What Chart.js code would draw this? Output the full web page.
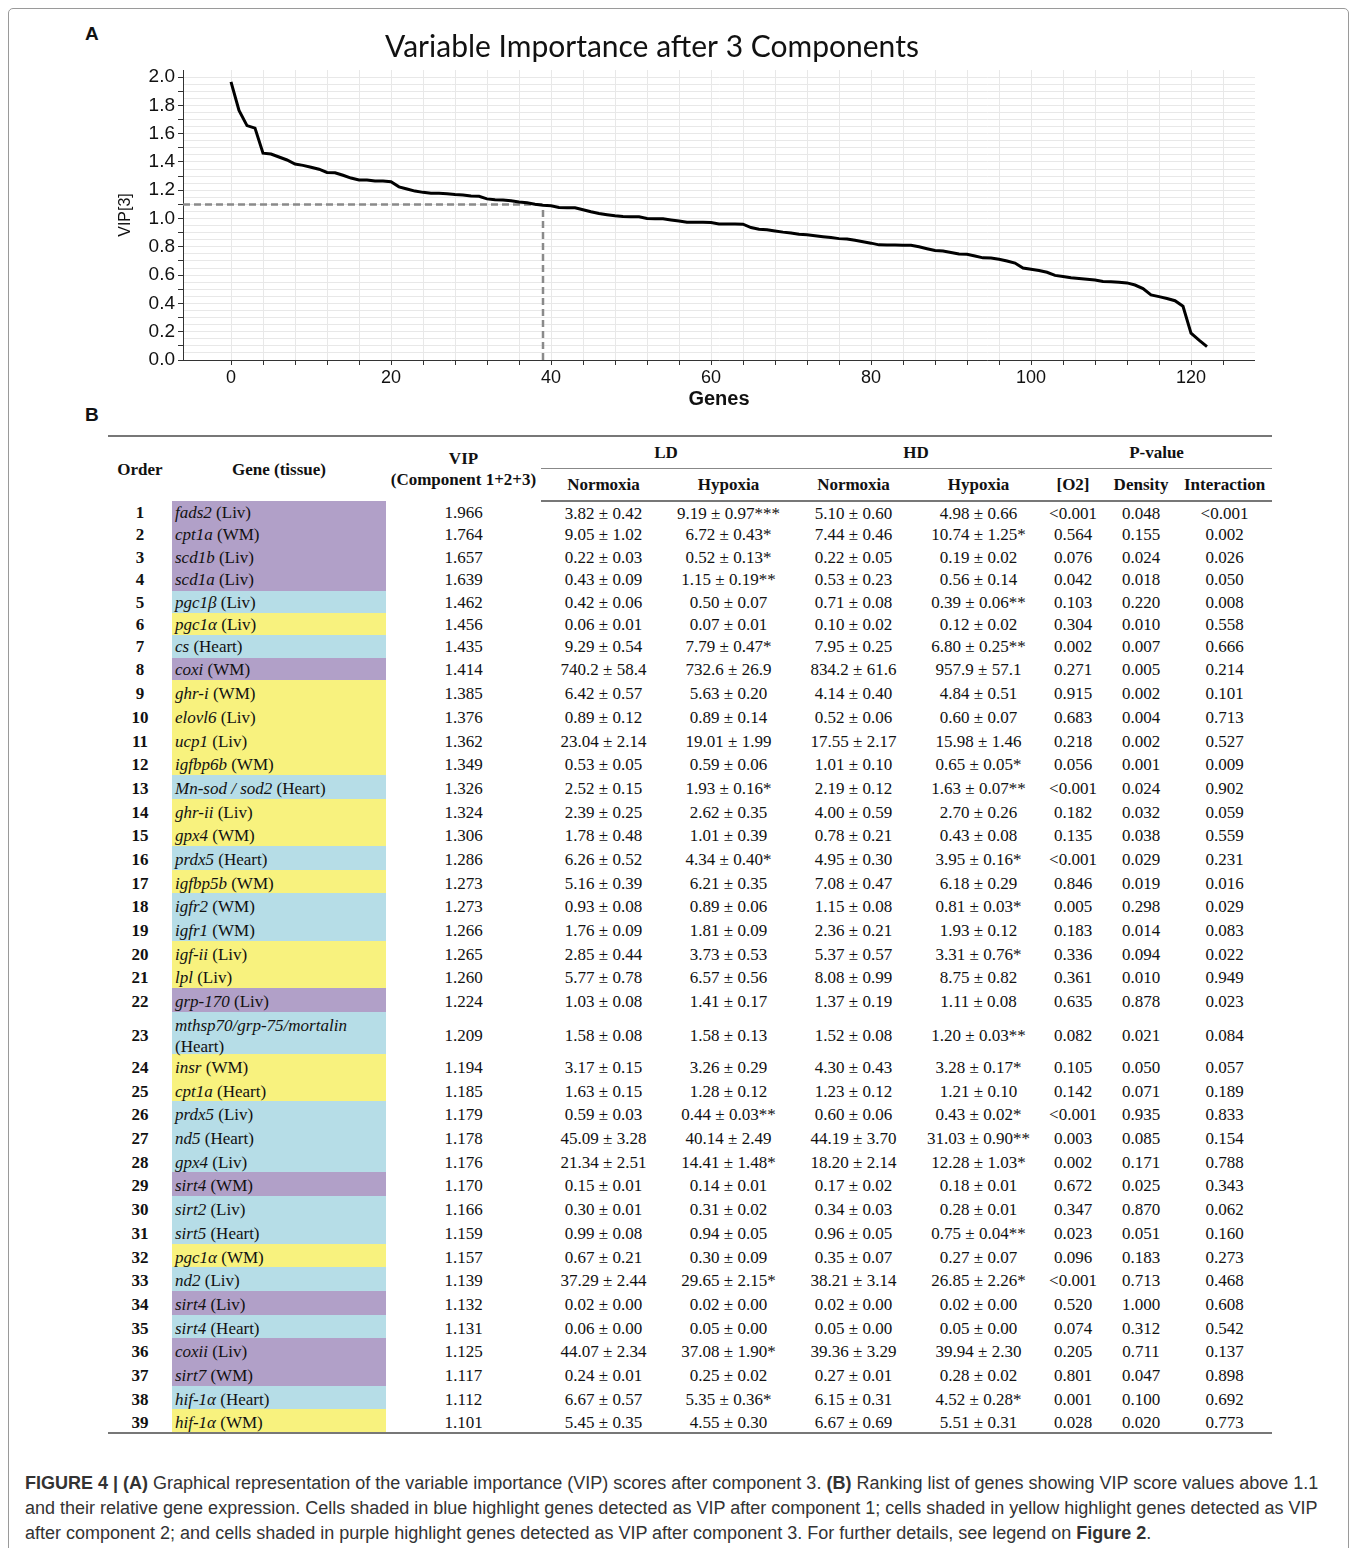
<!DOCTYPE html>
<html lang="en">
<head>
  <meta charset="UTF-8" />
  <title>Variable Importance after 3 Components</title>
  <style>
    * {
      margin: 0;
      padding: 0;
      box-sizing: border-box;
    }
    body {
      width: 1357px;
      height: 1548px;
      position: relative;
      overflow: hidden;
      background: #fff;
      font-family: Arial, "Liberation Sans", sans-serif;
    }
    .frame {
      position: absolute;
      left: 8px;
      top: 8px;
      width: 1341px;
      height: 1600px;
      border: 1px solid #9a9a9a;
      border-radius: 5px;
    }
    .panel-label {
      position: absolute;
      font: bold 19px Arial, sans-serif;
      color: #111;
    }
    #vipChart {
      position: absolute;
      left: 49px;
      top: 20px;
    }
    /* Table (panel B) */
    table {
      position: absolute;
      left: 108px;
      top: 435px;
      width: 1164px;
      border-collapse: collapse;
      table-layout: fixed;
      font-family: "Liberation Serif", "Times New Roman", serif;
      font-size: 17px;
      color: #111;
    }
    thead tr:first-child th {
      border-top: 2px solid #777;
    }
    thead tr.sub th {
      border-bottom: 2px solid #777;
    }
    th {
      font-weight: bold;
      text-align: center;
      vertical-align: middle;
      line-height: 21px;
      white-space: nowrap;
    }
    th.group {
      border-bottom: 1px solid #888;
    }
    tbody td {
      text-align: center;
      vertical-align: top;
      line-height: 18px;
      white-space: nowrap;
    }
    tbody tr.top8 td { padding-top: 3px; }
    tbody tr.std td { padding-top: 5px; }
    tbody tr.tall td { vertical-align: middle; padding-top: 6px; }
    tbody tr.tall td.gene { vertical-align: top; padding-top: 0; line-height: 21px; }
    tbody tr.tall td.gene span.wrap { position: relative; top: 3px; }
    tbody tr:last-child td { border-bottom: 2px solid #777; }
    td.order { font-weight: bold; }
    td.gene { text-align: left; padding-left: 3px; }
    td.gene i { font-style: italic; }
    .caption {
      position: absolute;
      left: 25px;
      top: 1471px;
      font-size: 18px;
      line-height: 25px;
      color: #333;
      white-space: nowrap;
    }
  </style>
</head>
<body>
  <div class="frame"></div>
  <div class="panel-label" style="left:85px; top:23px;">A</div>
  <div class="panel-label" style="left:85px; top:404px;">B</div>

  <canvas id="vipChart" width="1206" height="400"></canvas>

  <table id="vipTable">
    <colgroup>
      <col style="width:64px" />
      <col style="width:214px" />
      <col style="width:155px" />
      <col style="width:125px" />
      <col style="width:125px" />
      <col style="width:125px" />
      <col style="width:125px" />
      <col style="width:64px" />
      <col style="width:72px" />
      <col style="width:95px" />
    </colgroup>
    <thead>
      <tr style="height:32px">
        <th rowspan="2">Order</th>
        <th rowspan="2">Gene (tissue)</th>
        <th rowspan="2">VIP<br />(Component 1+2+3)</th>
        <th colspan="2" class="group">LD</th>
        <th colspan="2" class="group">HD</th>
        <th colspan="3" class="group">P-value</th>
      </tr>
      <tr class="sub" style="height:33px">
        <th>Normoxia</th>
        <th>Hypoxia</th>
        <th>Normoxia</th>
        <th>Hypoxia</th>
        <th>[O2]</th>
        <th>Density</th>
        <th>Interaction</th>
      </tr>
    </thead>
    <tbody></tbody>
  </table>

  <div class="caption">
    <b>FIGURE 4 | (A)</b> Graphical representation of the variable importance (VIP) scores after component 3. <b>(B)</b> Ranking list of genes showing VIP score values above 1.1<br />
    and their relative gene expression. Cells shaded in blue highlight genes detected as VIP after component 1; cells shaded in yellow highlight genes detected as VIP<br />
    after component 2; and cells shaded in purple highlight genes detected as VIP after component 3. For further details, see legend on <b>Figure 2</b>.
  </div>

  <script src="https://cdn.jsdelivr.net/npm/chart.js"></script>
  <script>
    // ---- data ----
    const geneNames = ['fads2', 'cpt1a', 'scd1b', 'scd1a', 'pgc1β', 'pgc1α', 'cs', 'coxi', 'ghr-i', 'elovl6',
      'ucp1', 'igfbp6b', 'Mn-sod / sod2', 'ghr-ii', 'gpx4', 'prdx5', 'igfbp5b', 'igfr2', 'igfr1', 'igf-ii',
      'lpl', 'grp-170', 'mthsp70/grp-75/mortalin', 'insr', 'cpt1a', 'prdx5', 'nd5', 'gpx4', 'sirt4', 'sirt2',
      'sirt5', 'pgc1α', 'nd2', 'sirt4', 'sirt4', 'coxii', 'sirt7', 'hif-1α', 'hif-1α'];
    const tissues = ['Liv', 'WM', 'Liv', 'Liv', 'Liv', 'Liv', 'Heart', 'WM', 'WM', 'Liv',
      'Liv', 'WM', 'Heart', 'Liv', 'WM', 'Heart', 'WM', 'WM', 'WM', 'Liv',
      'Liv', 'Liv', 'Heart', 'WM', 'Heart', 'Liv', 'Heart', 'Liv', 'WM', 'Liv',
      'Heart', 'WM', 'Liv', 'Liv', 'Heart', 'Liv', 'WM', 'Heart', 'WM'];
    // component after which the gene became VIP (1 = blue, 2 = yellow, 3 = purple)
    const vipComponent = [3, 3, 3, 3, 1, 2, 1, 3, 2, 2,
      2, 2, 1, 2, 2, 1, 2, 1, 1, 2,
      2, 3, 1, 2, 2, 1, 1, 1, 3, 1,
      1, 2, 1, 3, 1, 3, 3, 1, 2];
    const vipValues = [1.966, 1.764, 1.657, 1.639, 1.462, 1.456, 1.435, 1.414, 1.385, 1.376,
      1.362, 1.349, 1.326, 1.324, 1.306, 1.286, 1.273, 1.273, 1.266, 1.265,
      1.260, 1.224, 1.209, 1.194, 1.185, 1.179, 1.178, 1.176, 1.170, 1.166,
      1.159, 1.157, 1.139, 1.132, 1.131, 1.125, 1.117, 1.112, 1.101];
    const ldNormoxia = ['3.82 ± 0.42', '9.05 ± 1.02', '0.22 ± 0.03', '0.43 ± 0.09', '0.42 ± 0.06', '0.06 ± 0.01', '9.29 ± 0.54', '740.2 ± 58.4', '6.42 ± 0.57', '0.89 ± 0.12',
      '23.04 ± 2.14', '0.53 ± 0.05', '2.52 ± 0.15', '2.39 ± 0.25', '1.78 ± 0.48', '6.26 ± 0.52', '5.16 ± 0.39', '0.93 ± 0.08', '1.76 ± 0.09', '2.85 ± 0.44',
      '5.77 ± 0.78', '1.03 ± 0.08', '1.58 ± 0.08', '3.17 ± 0.15', '1.63 ± 0.15', '0.59 ± 0.03', '45.09 ± 3.28', '21.34 ± 2.51', '0.15 ± 0.01', '0.30 ± 0.01',
      '0.99 ± 0.08', '0.67 ± 0.21', '37.29 ± 2.44', '0.02 ± 0.00', '0.06 ± 0.00', '44.07 ± 2.34', '0.24 ± 0.01', '6.67 ± 0.57', '5.45 ± 0.35'];
    const ldHypoxia = ['9.19 ± 0.97***', '6.72 ± 0.43*', '0.52 ± 0.13*', '1.15 ± 0.19**', '0.50 ± 0.07', '0.07 ± 0.01', '7.79 ± 0.47*', '732.6 ± 26.9', '5.63 ± 0.20', '0.89 ± 0.14',
      '19.01 ± 1.99', '0.59 ± 0.06', '1.93 ± 0.16*', '2.62 ± 0.35', '1.01 ± 0.39', '4.34 ± 0.40*', '6.21 ± 0.35', '0.89 ± 0.06', '1.81 ± 0.09', '3.73 ± 0.53',
      '6.57 ± 0.56', '1.41 ± 0.17', '1.58 ± 0.13', '3.26 ± 0.29', '1.28 ± 0.12', '0.44 ± 0.03**', '40.14 ± 2.49', '14.41 ± 1.48*', '0.14 ± 0.01', '0.31 ± 0.02',
      '0.94 ± 0.05', '0.30 ± 0.09', '29.65 ± 2.15*', '0.02 ± 0.00', '0.05 ± 0.00', '37.08 ± 1.90*', '0.25 ± 0.02', '5.35 ± 0.36*', '4.55 ± 0.30'];
    const hdNormoxia = ['5.10 ± 0.60', '7.44 ± 0.46', '0.22 ± 0.05', '0.53 ± 0.23', '0.71 ± 0.08', '0.10 ± 0.02', '7.95 ± 0.25', '834.2 ± 61.6', '4.14 ± 0.40', '0.52 ± 0.06',
      '17.55 ± 2.17', '1.01 ± 0.10', '2.19 ± 0.12', '4.00 ± 0.59', '0.78 ± 0.21', '4.95 ± 0.30', '7.08 ± 0.47', '1.15 ± 0.08', '2.36 ± 0.21', '5.37 ± 0.57',
      '8.08 ± 0.99', '1.37 ± 0.19', '1.52 ± 0.08', '4.30 ± 0.43', '1.23 ± 0.12', '0.60 ± 0.06', '44.19 ± 3.70', '18.20 ± 2.14', '0.17 ± 0.02', '0.34 ± 0.03',
      '0.96 ± 0.05', '0.35 ± 0.07', '38.21 ± 3.14', '0.02 ± 0.00', '0.05 ± 0.00', '39.36 ± 3.29', '0.27 ± 0.01', '6.15 ± 0.31', '6.67 ± 0.69'];
    const hdHypoxia = ['4.98 ± 0.66', '10.74 ± 1.25*', '0.19 ± 0.02', '0.56 ± 0.14', '0.39 ± 0.06**', '0.12 ± 0.02', '6.80 ± 0.25**', '957.9 ± 57.1', '4.84 ± 0.51', '0.60 ± 0.07',
      '15.98 ± 1.46', '0.65 ± 0.05*', '1.63 ± 0.07**', '2.70 ± 0.26', '0.43 ± 0.08', '3.95 ± 0.16*', '6.18 ± 0.29', '0.81 ± 0.03*', '1.93 ± 0.12', '3.31 ± 0.76*',
      '8.75 ± 0.82', '1.11 ± 0.08', '1.20 ± 0.03**', '3.28 ± 0.17*', '1.21 ± 0.10', '0.43 ± 0.02*', '31.03 ± 0.90**', '12.28 ± 1.03*', '0.18 ± 0.01', '0.28 ± 0.01',
      '0.75 ± 0.04**', '0.27 ± 0.07', '26.85 ± 2.26*', '0.02 ± 0.00', '0.05 ± 0.00', '39.94 ± 2.30', '0.28 ± 0.02', '4.52 ± 0.28*', '5.51 ± 0.31'];
    const pOxygen = ['<0.001', '0.564', '0.076', '0.042', '0.103', '0.304', '0.002', '0.271', '0.915', '0.683',
      '0.218', '0.056', '<0.001', '0.182', '0.135', '<0.001', '0.846', '0.005', '0.183', '0.336',
      '0.361', '0.635', '0.082', '0.105', '0.142', '<0.001', '0.003', '0.002', '0.672', '0.347',
      '0.023', '0.096', '<0.001', '0.520', '0.074', '0.205', '0.801', '0.001', '0.028'];
    const pDensity = ['0.048', '0.155', '0.024', '0.018', '0.220', '0.010', '0.007', '0.005', '0.002', '0.004',
      '0.002', '0.001', '0.024', '0.032', '0.038', '0.029', '0.019', '0.298', '0.014', '0.094',
      '0.010', '0.878', '0.021', '0.050', '0.071', '0.935', '0.085', '0.171', '0.025', '0.870',
      '0.051', '0.183', '0.713', '1.000', '0.312', '0.711', '0.047', '0.100', '0.020'];
    const pInteraction = ['<0.001', '0.002', '0.026', '0.050', '0.008', '0.558', '0.666', '0.214', '0.101', '0.713',
      '0.527', '0.009', '0.902', '0.059', '0.559', '0.231', '0.016', '0.029', '0.083', '0.022',
      '0.949', '0.023', '0.084', '0.057', '0.189', '0.833', '0.154', '0.788', '0.343', '0.062',
      '0.160', '0.273', '0.468', '0.608', '0.542', '0.137', '0.898', '0.692', '0.773'];

    // VIP scores of the remaining genes (ranks 40-123)
    const tailScores = [1.094, 1.090, 1.078, 1.077, 1.076, 1.062, 1.048, 1.036, 1.027, 1.019,
      1.014, 1.013, 1.012, 1.001, 0.999, 0.998, 0.990, 0.982, 0.974, 0.973,
      0.973, 0.972, 0.962, 0.961, 0.961, 0.960, 0.936, 0.925, 0.920, 0.912,
      0.904, 0.898, 0.889, 0.885, 0.879, 0.872, 0.866, 0.858, 0.855, 0.846,
      0.836, 0.826, 0.814, 0.813, 0.813, 0.812, 0.811, 0.800, 0.787, 0.774,
      0.770, 0.760, 0.750, 0.747, 0.735, 0.722, 0.721, 0.712, 0.700, 0.685,
      0.650, 0.641, 0.632, 0.620, 0.598, 0.590, 0.582, 0.576, 0.571, 0.565,
      0.555, 0.553, 0.550, 0.545, 0.530, 0.505, 0.460, 0.448, 0.435, 0.419,
      0.380, 0.190, 0.140, 0.095];

    const vipCutoff = 1.1;
    const cutoffGene = 39;
    const xTickValues = [0, 4, 8, 12, 16, 20, 24, 28, 32, 36, 40, 44, 48, 52, 56, 60,
      64, 68, 72, 76, 80, 84, 88, 92, 96, 100, 104, 108, 112, 116, 120, 124];
    const xTickLabels = ['0', '20', '40', '60', '80', '100', '120'];
    const yTickLabels = ['0.0', '0.2', '0.4', '0.6', '0.8', '1.0', '1.2', '1.4', '1.6', '1.8', '2.0'];
    const xMin = -6, xMax = 128, yMax = 2.05;

    // ---- table ----
    const cellColors = { 1: '#b6dde7', 2: '#f8f27e', 3: '#b1a0c8' };
    const tbody = document.querySelector('#vipTable tbody');
    geneNames.forEach((gene, i) => {
      const tr = document.createElement('tr');
      const long = gene.length > 18;
      if (long) {
        tr.className = 'tall';
        tr.style.height = '42.3px';
      } else if (i < 8) {
        tr.className = 'top8';
        tr.style.height = '22.4px';
      } else {
        tr.className = 'std';
        tr.style.height = '23.7px';
      }
      const geneHtml = long
        ? '<span class="wrap"><i>' + gene + '</i><br>(' + tissues[i] + ')</span>'
        : '<i>' + gene + '</i> (' + tissues[i] + ')';
      tr.innerHTML =
        '<td class="order">' + (i + 1) + '</td>' +
        '<td class="gene" style="background:' + cellColors[vipComponent[i]] + '">' + geneHtml + '</td>' +
        '<td>' + vipValues[i].toFixed(3) + '</td>' +
        '<td>' + ldNormoxia[i] + '</td>' +
        '<td>' + ldHypoxia[i] + '</td>' +
        '<td>' + hdNormoxia[i] + '</td>' +
        '<td>' + hdHypoxia[i] + '</td>' +
        '<td>' + pOxygen[i].replace('<', '&lt;') + '</td>' +
        '<td>' + pDensity[i] + '</td>' +
        '<td>' + pInteraction[i].replace('<', '&lt;') + '</td>';
      tbody.appendChild(tr);
    });

    // ---- chart ----
    const vipScores = vipValues.concat(tailScores);
    const axisFont = { family: 'Arial', size: 19 };

    new Chart(document.getElementById('vipChart'), {
      type: 'line',
      data: {
        datasets: [
          {
            data: vipScores.map((v, i) => ({ x: i, y: v })),
            borderColor: '#000',
            borderWidth: 3,
            pointRadius: 0,
            tension: 0
          },
          {
            data: [{ x: xMin, y: vipCutoff }, { x: cutoffGene, y: vipCutoff }],
            borderColor: '#8a8a8a',
            borderWidth: 2.5,
            borderDash: [7, 4],
            pointRadius: 0
          },
          {
            data: [{ x: cutoffGene, y: 0 }, { x: cutoffGene, y: vipCutoff }],
            borderColor: '#8a8a8a',
            borderWidth: 2.5,
            borderDash: [7, 4],
            pointRadius: 0
          }
        ]
      },
      options: {
        responsive: false,
        animation: false,
        devicePixelRatio: 1,
        layout: { padding: 0 },
        plugins: {
          legend: { display: false },
          tooltip: { enabled: false },
          title: {
            display: true,
            text: 'Variable Importance after 3 Components',
            color: '#111',
            font: { family: 'Lato', size: 30, weight: 'normal' },
            padding: { top: 9, bottom: 5 }
          }
        },
        scales: {
          x: {
            type: 'linear',
            min: xMin,
            max: xMax,
            afterBuildTicks: (s) => { s.ticks = xTickValues.map(v => ({ value: v })); },
            afterFit: (s) => { s.height = 60; },
            ticks: {
              autoSkip: false,
              maxRotation: 0,
              padding: 2,
              color: '#111',
              font: { family: 'Arial', size: 18 },
              callback: (v) => (xTickLabels.includes(String(v)) ? String(v) : '')
            },
            grid: { color: '#e8e8e8', tickColor: '#333', tickLength: 5 },
            border: { color: '#333', width: 1 },
            title: {
              display: true,
              text: 'Genes',
              color: '#111',
              font: { family: 'Arial', size: 20, weight: 'bold' },
              padding: { top: 0, bottom: 9 }
            }
          },
          y: {
            min: 0,
            max: yMax,
            afterBuildTicks: (s) => {
              const t = [];
              for (let k = 0; k <= 40; k++) t.push({ value: k * 0.05 });
              s.ticks = t;
            },
            afterFit: (s) => { s.width = 134; },
            ticks: {
              autoSkip: false,
              padding: 3,
              color: '#111',
              font: axisFont,
              callback: (v) => {
                const k = Math.round(v * 100);
                return k % 20 === 0 ? yTickLabels[k / 20] : '';
              }
            },
            grid: {
              color: '#e8e8e8',
              tickLength: 5,
              tickColor: (c) => (Math.round(c.tick.value * 100) % 10 === 0 ? '#333' : 'rgba(0,0,0,0)')
            },
            border: { color: '#333', width: 1 },
            title: {
              display: true,
              text: 'VIP[3]',
              color: '#111',
              font: { family: 'Arial', size: 16 },
              padding: { top: 67, bottom: 0 }
            }
          }
        }
      }
    });
  </script>
</body>
</html>
